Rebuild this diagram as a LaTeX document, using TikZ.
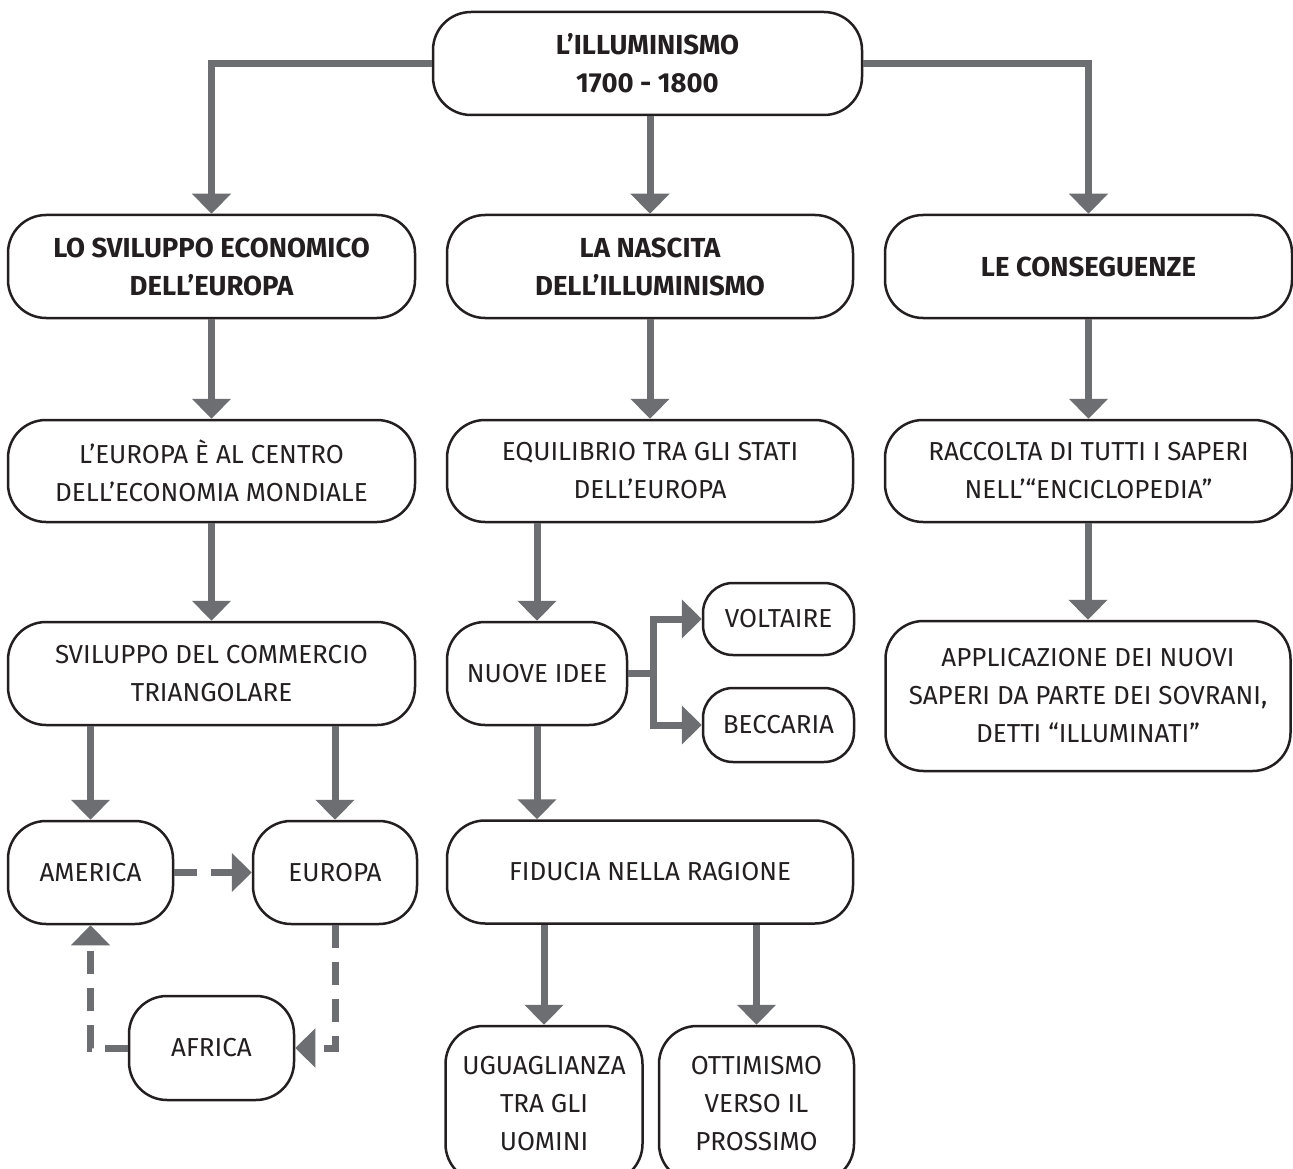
\documentclass[tikz,border=0pt]{standalone}
\usepackage{fontspec}
\setmainfont{Fira Sans}
\usetikzlibrary{arrows.meta}
\definecolor{arrowgray}{HTML}{6D6E71}
\definecolor{ink}{HTML}{231F20}
\begin{document}
\begin{tikzpicture}[x=1pt,y=-1pt,
  box/.style={draw=ink, line width=2.5pt, rounded corners=38pt, align=center, text=ink,
    font=\fontsize{26}{38}\selectfont, inner sep=0pt, fill=white},
  bbox/.style={box, font=\fontsize{27.5}{38}\selectfont\bfseries},
  conn/.style={draw=arrowgray, line width=7pt, -{Triangle[width=38pt,length=20pt]}},
  dconn/.style={conn, dash pattern=on 23pt off 14pt},
]
\useasboundingbox (0,0) rectangle (1293,1169);
\clip (0,0) rectangle (1293,1169);
\fill[white] (0,0) rectangle (1293,1169);

% nodes
\node[bbox, minimum width=429pt, minimum height=103pt] (top) at (647.5,63.5) {L’ILLUMINISMO\\1700 - 1800};

\node[bbox, minimum width=407pt, minimum height=103pt] (svil) at (211.5,266.5) {LO SVILUPPO ECONOMICO\\DELL’EUROPA};
\node[bbox, minimum width=406pt, minimum height=103pt] (nasc) at (650,266.5) {LA NASCITA\\DELL’ILLUMINISMO};
\node[bbox, minimum width=407pt, minimum height=103pt] (cons) at (1088.5,266.5) {LE CONSEGUENZE};

\node[box, minimum width=407pt, minimum height=102pt] (centro) at (211.5,471) {L’EUROPA È AL CENTRO\\DELL’ECONOMIA MONDIALE};
\node[box, minimum width=406pt, minimum height=102pt] (equi) at (650,471) {EQUILIBRIO TRA GLI STATI\\DELL’EUROPA};
\node[box, minimum width=407pt, minimum height=102pt] (racc) at (1088.5,471) {RACCOLTA DI TUTTI I SAPERI\\NELL’“ENCICLOPEDIA”};

\node[box, minimum width=407pt, minimum height=103pt] (comm) at (211.5,673.5) {SVILUPPO DEL COMMERCIO\\TRIANGOLARE};
\node[box, minimum width=180pt, minimum height=103pt] (nuove) at (537,673.5) {NUOVE IDEE};
\node[box, rounded corners=30pt, minimum width=151pt, minimum height=72pt] (volt) at (778.5,619) {VOLTAIRE};
\node[box, rounded corners=30pt, minimum width=151pt, minimum height=74pt] (becc) at (778.5,725) {BECCARIA};
\node[box, minimum width=405pt, minimum height=150pt] (appl) at (1088,696) {APPLICAZIONE DEI NUOVI\\SAPERI DA PARTE DEI SOVRANI,\\DETTI “ILLUMINATI”};

\node[box, minimum width=165pt, minimum height=103pt] (amer) at (90.5,872.5) {AMERICA};
\node[box, minimum width=164pt, minimum height=103pt] (euro) at (335,872.5) {EUROPA};
\node[box, minimum width=406pt, minimum height=103pt] (fidu) at (650,872) {FIDUCIA NELLA RAGIONE};
\node[box, minimum width=165pt, minimum height=104pt] (afri) at (211.5,1048) {AFRICA};

\node[box, minimum width=197pt, minimum height=156pt] (ugua) at (544,1104) {UGUAGLIANZA\\TRA GLI\\UOMINI};
\node[box, minimum width=195pt, minimum height=156pt] (otti) at (756.5,1104) {OTTIMISMO\\VERSO IL\\PROSSIMO};

% connectors
\draw[conn] (top.west) -| (svil.north);
\draw[conn] (top.east) -| (cons.north);
\draw[conn] (top.south -| nasc.north) -- (nasc.north);

\draw[conn] (svil.south) -- (centro.north);
\draw[conn] (nasc.south) -- (equi.north);
\draw[conn] (cons.south) -- (racc.north);

\draw[conn] (centro.south) -- (comm.north);
\draw[conn] (equi.south -| nuove.north) -- (nuove.north);
\draw[conn] (racc.south -| appl.north) -- (appl.north);

\coordinate (split) at ([xshift=25pt]nuove.east);
\draw[conn] (nuove.east) -- (split) |- (volt.west);
\draw[conn] (nuove.east) -- (split) |- (becc.west);
\draw[conn] (nuove.south) -- (nuove.south |- fidu.north);

\draw[conn] (comm.south -| amer.north) -- (amer.north);
\draw[conn] (comm.south -| euro.north) -- (euro.north);

\draw[conn] (fidu.south -| ugua.north) -- (ugua.north);
\draw[conn] (fidu.south -| otti.north) -- (otti.north);

\draw[dconn] (amer.east) -- (euro.west);
\draw[dconn] (euro.south) |- (afri.east);
\draw[dconn] (afri.west) -| (amer.south);
\end{tikzpicture}
\end{document}
